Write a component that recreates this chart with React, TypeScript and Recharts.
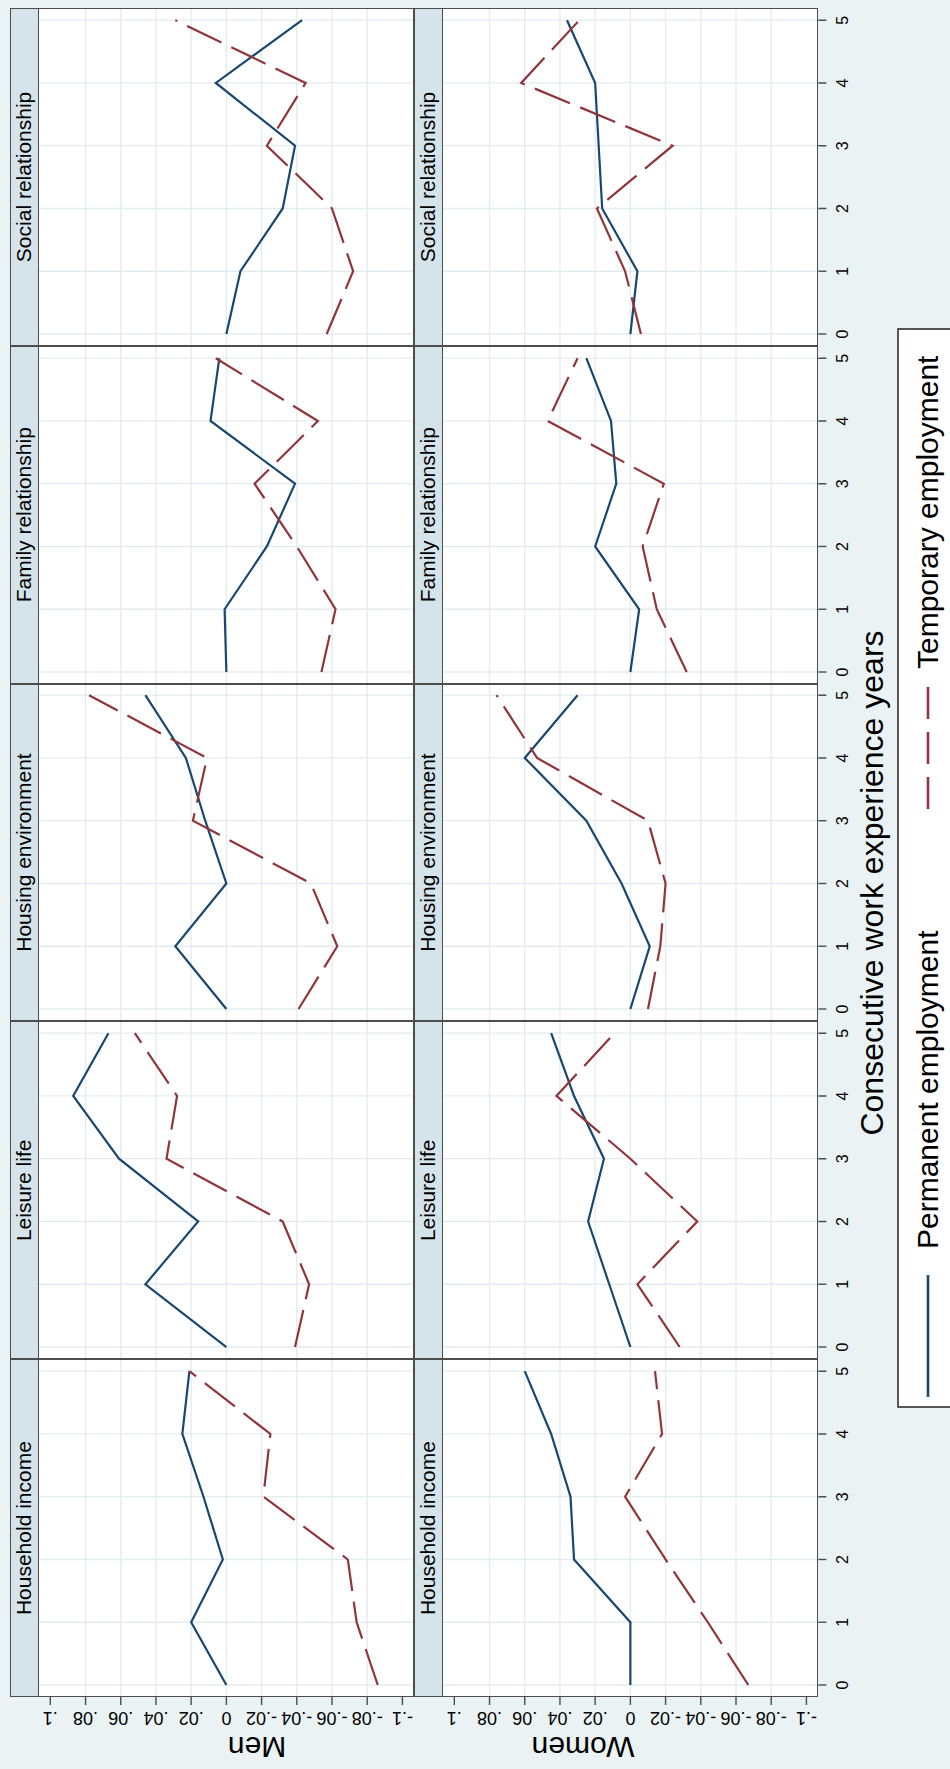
import React from "react";
import { LineChart, Line, XAxis, YAxis, ReferenceLine } from "recharts";

// ---- data ----
const YEARS = [0, 1, 2, 3, 4, 5];
const DOMAINS = [
  "Household income",
  "Leisure life",
  "Housing environment",
  "Family relationship",
  "Social relationship",
];
const ROW_TITLES = ["Men", "Women"];
const SERIES_NAMES = ["Permanent employment", "Temporary employment"];
const X_TITLE = "Consecutive work experience years";

// one row per domain, values for years 0..5
const MEN_PERMANENT = [
  [0, 0.02, 0.002, 0.013, 0.025, 0.021],
  [0, 0.046, 0.016, 0.061, 0.087, 0.067],
  [0, 0.029, 0, 0.012, 0.023, 0.046],
  [0, 0.001, -0.023, -0.039, 0.009, 0.004],
  [0, -0.008, -0.032, -0.039, 0.006, -0.043],
];
const MEN_TEMPORARY = [
  [-0.086, -0.074, -0.069, -0.021, -0.025, 0.021],
  [-0.039, -0.047, -0.032, 0.034, 0.028, 0.052],
  [-0.041, -0.063, -0.048, 0.019, 0.011, 0.078],
  [-0.054, -0.062, -0.04, -0.016, -0.052, 0.006],
  [-0.057, -0.072, -0.06, -0.023, -0.045, 0.029],
];
const WOMEN_PERMANENT = [
  [0, 0, 0.032, 0.034, 0.045, 0.06],
  [0, 0.012, 0.024, 0.015, 0.032, 0.045],
  [0, -0.011, 0.005, 0.025, 0.06, 0.03],
  [0, -0.005, 0.02, 0.008, 0.011, 0.025],
  [0, -0.004, 0.016, 0.018, 0.02, 0.036],
];
const WOMEN_TEMPORARY = [
  [-0.067, -0.044, -0.02, 0.003, -0.018, -0.014],
  [-0.028, -0.004, -0.038, 0, 0.042, 0.009],
  [-0.01, -0.017, -0.02, -0.01, 0.053, 0.076],
  [-0.032, -0.015, -0.007, -0.019, 0.047, 0.03],
  [-0.006, 0.003, 0.019, -0.024, 0.062, 0.029],
];

const VALUE_TICKS = [-0.1, -0.08, -0.06, -0.04, -0.02, 0, 0.02, 0.04, 0.06, 0.08, 0.1];
const VALUE_LABELS = ["-.1", "-.08", "-.06", "-.04", "-.02", "0", ".02", ".04", ".06", ".08", ".1"];
const GRID_VALUES = VALUE_TICKS.slice(1, -1);

// ---- look ----
const FONT = "'Liberation Sans', Arial, Helvetica, sans-serif";
const BG = "#EAF2F3";
const STRIP = "#D5E3EA";
const FRAME = "#4D4D4D";
const GRID = "#E4EBEF";
const NAVY = "#1A476F";
const MAROON = "#90353B";
const DASH = "38 11";

// figure is drawn landscape, then turned a quarter to the left
const FIG_W = 1769;
const FIG_H = 950;
const PANEL_LEFT = 72;
const PANEL_W = 337.8;
const PLOT_H = 376.4;
const STRIP_H = 27.6;
const ROW_STRIP_TOP = [10, 414];
const AXIS_W = 72;
const XAXIS_H = 40;
const X_DOMAIN = [-0.191, 5.191];
const Y_DOMAIN = [-0.1068, 0.107];

const ValueTick = (p: any) => {
  const y = p.y;
  const i = VALUE_TICKS.indexOf(p.payload.value);
  return (
    <g>
      <line x1={AXIS_W - 8} x2={AXIS_W} y1={y} y2={y} stroke={FRAME} strokeWidth={1.4} />
      <text
        x={AXIS_W - 15}
        y={y}
        transform={`rotate(-90 ${AXIS_W - 15} ${y})`}
        textAnchor="middle"
        fontSize={18}
        fontFamily={FONT}
        fill="#000"
      >
        {VALUE_LABELS[i]}
      </text>
    </g>
  );
};

const YearTick = (p: any) => (
  <g>
    <line x1={p.x} x2={p.x} y1={PLOT_H} y2={PLOT_H + 8} stroke={FRAME} strokeWidth={1.4} />
    <text x={p.x} y={PLOT_H + 30} textAnchor="middle" fontSize={16} fontFamily={FONT} fill="#000">
      {p.payload.value}
    </text>
  </g>
);

function Panel({ col, row }: { col: number; row: number }) {
  const perm = (row === 0 ? MEN_PERMANENT : WOMEN_PERMANENT)[col];
  const temp = (row === 0 ? MEN_TEMPORARY : WOMEN_TEMPORARY)[col];
  const data = YEARS.map((year, i) => ({ year, perm: perm[i], temp: temp[i] }));
  const padL = col === 0 ? AXIS_W : 0;
  const padB = row === 1 ? XAXIS_H : 0;
  const x0 = PANEL_LEFT + col * PANEL_W;
  const stripTop = ROW_STRIP_TOP[row];
  const plotTop = stripTop + STRIP_H;

  return (
    <>
      <div style={{ position: "absolute", left: x0, top: plotTop, width: PANEL_W, height: PLOT_H, background: "#fff" }} />
      <div style={{ position: "absolute", left: x0 - padL, top: plotTop }}>
        <LineChart
          width={PANEL_W + padL}
          height={PLOT_H + padB}
          data={data}
          margin={{ top: 0, right: 0, bottom: 0, left: 0 }}
        >
          <XAxis
            type="number"
            dataKey="year"
            domain={X_DOMAIN}
            ticks={YEARS}
            interval={0}
            allowDataOverflow
            hide={row !== 1}
            height={XAXIS_H}
            axisLine={false}
            tickLine={false}
            tick={YearTick}
          />
          <YAxis
            type="number"
            domain={Y_DOMAIN}
            ticks={VALUE_TICKS}
            interval={0}
            allowDataOverflow
            hide={col !== 0}
            width={AXIS_W}
            axisLine={false}
            tickLine={false}
            tick={ValueTick}
          />
          {YEARS.map((y) => (
            <ReferenceLine key={"gx" + y} x={y} stroke={GRID} strokeWidth={1.3} />
          ))}
          {GRID_VALUES.map((v) => (
            <ReferenceLine key={"gy" + v} y={v} stroke={GRID} strokeWidth={1.3} />
          ))}
          <Line dataKey="perm" stroke={NAVY} strokeWidth={2.2} dot={false} isAnimationActive={false} />
          <Line
            dataKey="temp"
            stroke={MAROON}
            strokeWidth={2.2}
            strokeDasharray={DASH}
            dot={false}
            isAnimationActive={false}
          />
        </LineChart>
      </div>
      <div
        style={{
          position: "absolute",
          left: x0,
          top: plotTop,
          width: PANEL_W,
          height: PLOT_H,
          boxSizing: "border-box",
          border: `1.5px solid ${FRAME}`,
          pointerEvents: "none",
        }}
      />
      <div
        style={{
          position: "absolute",
          left: x0,
          top: stripTop,
          width: PANEL_W,
          height: STRIP_H + 1,
          boxSizing: "border-box",
          border: `1.5px solid ${FRAME}`,
          background: STRIP,
          fontFamily: FONT,
          fontSize: 21,
          lineHeight: `${STRIP_H - 2}px`,
          textAlign: "center",
          color: "#000",
        }}
      >
        {DOMAINS[col]}
      </div>
    </>
  );
}

export default function App() {
  return (
    <div
      style={{
        position: "absolute",
        left: 0,
        top: 0,
        width: FIG_H,
        height: FIG_W,
        overflow: "hidden",
        background: BG,
      }}
    >
      <div
        style={{
          position: "absolute",
          left: 0,
          top: 0,
          width: FIG_W,
          height: FIG_H,
          background: BG,
          transformOrigin: "0 0",
          transform: `translateY(${FIG_W}px) rotate(-90deg)`,
          overflow: "hidden",
        }}
      >
        {[0, 1].map((row) => DOMAINS.map((_, col) => <Panel key={row + "-" + col} row={row} col={col} />))}
        <svg
          width={FIG_W}
          height={FIG_H}
          style={{ position: "absolute", left: 0, top: 0, pointerEvents: "none" }}
          fontFamily={FONT}
        >
          <text x={32} y={257} transform="rotate(-90 32 257)" textAnchor="middle" fontSize={30}>
            {ROW_TITLES[0]}
          </text>
          <text x={32} y={583} transform="rotate(-90 32 583)" textAnchor="middle" fontSize={30}>
            {ROW_TITLES[1]}
          </text>
          <text x={886} y={883} textAnchor="middle" fontSize={32}>
            {X_TITLE}
          </text>
          <rect x={362} y={898} width={1078} height={80} fill="#fff" stroke="#222" strokeWidth={1.5} />
          <line x1={372} x2={494} y1={928} y2={928} stroke={NAVY} strokeWidth={2.6} />
          <text x={520} y={938} fontSize={30}>
            {SERIES_NAMES[0]}
          </text>
          <line x1={960} x2={1082} y1={928} y2={928} stroke={MAROON} strokeWidth={2.6} strokeDasharray="32 13" />
          <text x={1100} y={938} fontSize={30}>
            {SERIES_NAMES[1]}
          </text>
        </svg>
      </div>
    </div>
  );
}
